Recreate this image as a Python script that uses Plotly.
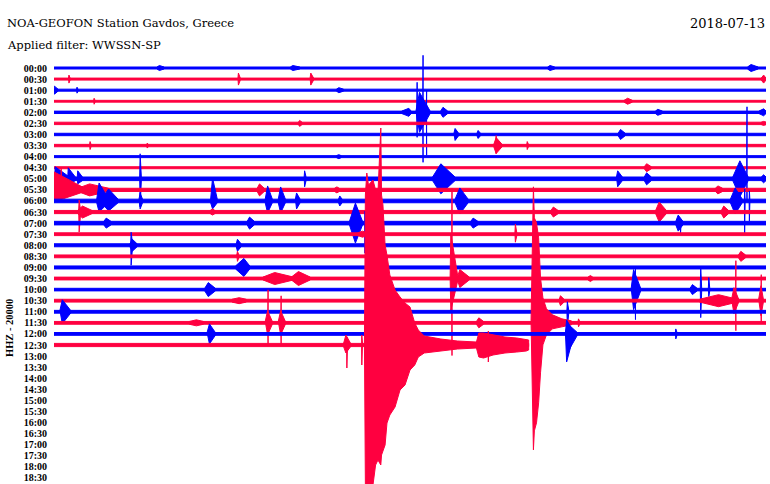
import plotly.graph_objects as go

# ---------------- text ----------------
TITLE = "NOA-GEOFON Station Gavdos, Greece"
FILTER_TEXT = "Applied filter: WWSSN-SP"
DATE_TEXT = "2018-07-13"
SCALE_TEXT = "HHZ - 20000"

row_labels = ["00:00", "00:30", "01:00", "01:30", "02:00", "02:30", "03:00", "03:30",
              "04:00", "04:30", "05:00", "05:30", "06:00", "06:30", "07:00", "07:30",
              "08:00", "08:30", "09:00", "09:30", "10:00", "10:30", "11:00", "11:30",
              "12:00", "12:30", "13:00", "13:30", "14:00", "14:30", "15:00", "15:30",
              "16:00", "16:30", "17:00", "17:30", "18:00", "18:30"]

ROW_MINUTES = 30          # each helicorder line spans 30 minutes
ROW_UNITS = 11.08         # amplitude units per line spacing (1 line = 20000 counts)

# background noise half-amplitude of each recorded line
base_noise = [1.0, 1.0, 1.0, 0.9, 1.2, 1.2, 1.2, 1.2, 1.0, 1.0,
              1.8, 1.6, 1.8, 1.6, 1.8, 1.4, 1.5, 1.4, 1.5, 1.4,
              1.3, 1.4, 1.4, 1.4, 1.4, 1.6]
# minute at which each recorded line ends
trace_end = [30] * 25 + [20.0]

# wave packets: (minute, up, down, rise, decay)
ev_0000 = [(4.44, 2.5, 2.5, .1, .2), (10.06, 2.5, 2.5, .1, .3), (20.9, 2.5, 2.5, .1, .2), (29.37, 3.5, 3.5, .15, .3)]
ev_0030 = [(0.63, 4, 4, .02, .05), (7.77, 6, 6, .02, .08), (10.82, 6, 6, .03, .12), (29.9, 4, 4, .1, .1)]
ev_0100 = [(0.02, 4, 4, .01, .15), (0.97, 3, 3, .02, .04), (12.0, 2.5, 2.5, .1, .2)]
ev_0130 = [(1.69, 3, 3, .02, .04), (24.17, 3, 3, .15, .2)]
ev_0200 = [(14.95, 4, 4, .3, .1), (15.4, 20, 20, .15, .45), (15.3, 30, 25, .02, .02), (15.55, 57, 50, .01, .01),
           (15.70, 22, 43, .01, .01), (16.39, 5, 5, .1, .2), (25.44, 3, 3, .1, .2), (29.9, 3.5, 3.5, .2, .1)]
ev_0230 = [(10.35, 3, 3, .05, .1), (29.9, 2, 2, .1, .1)]
ev_0300 = [(16.9, 6, 6, .05, .15), (17.87, 4, 4, .05, .1), (23.87, 5, 5, .1, .2)]
ev_0330 = [(1.52, 4, 4, .02, .04), (3.93, 2.5, 2.5, .02, .04), (18.63, 8, 8, .1, .25), (18.63, 10, 8, .01, .02),
           (19.94, 4, 4, .02, .05)]
ev_0400 = [(12.0, 2, 2, .1, .1)]
ev_0430 = [(24.97, 4, 4, .1, .2)]
ev_0500 = [(0.05, 12, 8, .02, .6), (0.6, 11, 6, .02, .3), (1.0, 8, 5, .02, .2), (3.63, 25, 28, .02, .05),
           (10.56, 8, 8, .02, .06), (16.3, 15, 15, .35, .6), (23.75, 8, 8, .05, .2), (24.97, 6, 6, .1, .2),
           (28.9, 18, 18, .3, .35), (29.2, 72, 22, .01, .02), (29.9, 4, 4, .1, .1)]
ev_0530 = [(0.0, 18, 12, .01, 1.3), (0.3, 22, 10, .01, .05), (1.5, 6, 6, .5, .8), (8.66, 6, 6, .1, .2),
           (11.92, 3, 3, .1, .1), (27.97, 4, 4, .1, .2)]
ev_0600 = [(1.9, 18, 11, .1, .4), (2.3, 12, 10, .3, .4), (3.63, 8, 8, .05, .1), (6.68, 23, 8, .08, .2),
           (9.0, 15, 12, .1, .2), (9.55, 14, 12, .1, .2), (10.22, 8, 8, .05, .15), (12.04, 5, 5, .05, .1),
           (17.1, 13, 13, .2, .35), (28.7, 13, 13, .2, .3), (29.1, 12, 32, .01, .02), (29.3, 10, 20, .01, .02)]
ev_0630 = [(1.06, 12, 20, .02, .06), (1.2, 6, 6, .2, .4), (6.68, 3, 3, .1, .1), (21.04, 5, 5, .1, .2),
           (25.5, 10, 10, .15, .3), (28.22, 6, 6, .1, .2)]
ev_0700 = [(2.2, 5, 5, .1, .2), (8.24, 6, 6, .1, .2), (12.7, 20, 20, .25, .3), (13.1, 12, 30, .01, .02),
           (17.66, 5, 5, .1, .2), (26.3, 8, 8, .1, .2), (26.4, 4, 10, .01, .02)]
ev_0730 = [(13.0, 3, 3, .2, .2), (19.44, 10, 8, .02, .06)]
ev_0800 = [(3.25, 13, 20, .02, .06), (3.3, 6, 6, .1, .2), (7.73, 6, 6, .05, .15)]
ev_0830 = [(7.73, 5, 5, .03, .06), (28.94, 5, 5, .1, .2)]
ev_0900 = [(8.0, 9, 9, .35, .25)]
ev_0930 = [(9.3, 6, 6, .5, .8), (10.3, 7, 7, .3, .5), (16.72, 45, 32, .03, .3), (16.77, 90, 77, .01, .01),
           (17.1, 9, 9, .1, .4), (22.6, 3, 3, .1, .1)]
ev_1000 = [(6.5, 7, 7, .15, .3), (24.42, 20, 20, .1, .3), (24.5, 22, 30, .01, .02), (26.9, 5, 5, .1, .2),
           (27.25, 22, 28, .02, .04), (27.59, 12, 7, .02, .04)]
ev_1030 = [(7.8, 3, 3, .3, .3), (21.34, 5, 5, .05, .15), (28.0, 6, 6, .8, .8), (28.65, 13, 13, .1, .2),
           (28.73, 40, 30, .01, .02), (29.79, 15, 15, .1, .1), (29.8, 26, 22, .01, .02)]
ev_1100 = [(0.35, 12, 12, .1, .35), (21.63, 10, 15, .02, .06)]
ev_1130 = [(6.0, 3, 3, .3, .3), (9.0, 12, 12, .1, .2), (9.02, 33, 22, .01, .02), (9.55, 12, 12, .1, .2),
           (9.57, 27, 22, .01, .02), (17.9, 5, 5, .1, .2), (22.1, 4, 4, .02, .05)]
ev_1200 = [(6.55, 10, 10, .1, .25), (21.6, 14, 28, .05, .3), (21.65, 10, 18, .1, .4), (26.2, 5, 5, .02, .05)]
ev_1230 = [(12.3, 10, 8, .1, .2), (12.34, 8, 23, .01, .03), (12.97, 10, 20, .01, .03), (18.3, 14, 17, .01, .03)]

# large earthquakes: envelope keypoints (minute, up, down)
quake_1130 = [(20.10, 2, 2), (20.18, 120, 100), (20.20, 136, 127), (20.24, 105, 108), (20.33, 100, 100),
              (20.42, 85, 80), (20.50, 45, 50), (20.60, 25, 22), (20.75, 14, 12), (21.0, 8, 6),
              (21.4, 4, 4), (21.8, 2, 2)]
quake_1230 = [(13.08, 2, 2), (13.12, 150, 140), (13.18, 172, 160), (13.25, 160, 150), (13.44, 165, 140),
              (13.55, 155, 120), (13.65, 152, 115), (13.77, 217, 120), (13.80, 150, 110), (13.86, 140, 105),
              (13.95, 100, 100), (14.03, 90, 78), (14.15, 70, 70), (14.37, 55, 62), (14.58, 48, 45),
              (14.79, 42, 40), (15.0, 38, 25), (15.2, 22, 20), (15.35, 15, 12), (15.6, 9, 8),
              (16.3, 6, 6), (17.0, 4, 4), (17.8, 3, 3)]
aftershock_1230 = [(17.8, 3, 3), (17.9, 12, 12), (18.1, 12, 13), (18.5, 10, 10), (19.0, 8, 8),
                   (19.5, 7, 7), (19.9, 6, 6), (20.0, 5, 5)]

row_events = [ev_0000, ev_0030, ev_0100, ev_0130, ev_0200, ev_0230, ev_0300, ev_0330, ev_0400, ev_0430,
              ev_0500, ev_0530, ev_0600, ev_0630, ev_0700, ev_0730, ev_0800, ev_0830, ev_0900, ev_0930,
              ev_1000, ev_1030, ev_1100, ev_1130, ev_1200, ev_1230]
row_quakes = {23: [quake_1130], 25: [quake_1230, aftershock_1230]}

BLUE = "#0000ff"
RED = "#ff0040"

fig = go.Figure()
for i, evs in enumerate(row_events):
    y0 = -i
    color = BLUE if i % 2 == 0 else RED
    b = base_noise[i] / ROW_UNITS
    end = trace_end[i]
    xs = [0, end, end, 0, 0, None]
    ys = [y0 + b, y0 + b, y0 - b, y0 - b, y0 + b, None]
    for (t, up, dn, r, d) in evs:
        u = up / ROW_UNITS
        w = dn / ROW_UNITS
        t1 = min(t + d, end)
        xs += [t - r, t, t1, t1, t, t - r, t - r, None]
        ys += [y0 + b, y0 + u, y0 + b, y0 - b, y0 - w, y0 - b, y0 + b, None]
    for env in row_quakes.get(i, []):
        ux = [m for m, _, _ in env]
        uy = [y0 + u / ROW_UNITS for _, u, _ in env]
        lx = ux[::-1]
        ly = [y0 - d / ROW_UNITS for _, _, d in env][::-1]
        xs += ux + lx + [ux[0], None]
        ys += uy + ly + [uy[0], None]
    fig.add_trace(go.Scatter(x=xs, y=ys, mode="lines", fill="toself", fillcolor=color,
                             line=dict(color=color, width=1), hoverinfo="skip", showlegend=False))

W, H = 770, 484
ML, MR, MT, MB = 54, 4, 48, 0
PX_PER_ROW = 11.08
top_val = (68 - MT) / PX_PER_ROW
bot_val = -(H - MB - 68) / PX_PER_ROW

def px_x(px):
    return (px - ML) / (W - ML - MR)

def px_y(py):
    return (H - MB - py) / (H - MT - MB)

TEXT_FONT = dict(family="DejaVu Serif", size=11.5, color="black")
DATE_FONT = dict(family="DejaVu Serif", size=13, color="black")

fig.update_layout(
    width=W, height=H,
    margin=dict(l=ML, r=MR, t=MT, b=MB),
    paper_bgcolor="white", plot_bgcolor="white",
    xaxis=dict(range=[0, ROW_MINUTES], visible=False, fixedrange=True),
    yaxis=dict(range=[bot_val, top_val], tickvals=[-k for k in range(len(row_labels))],
               ticktext=row_labels, showgrid=False, zeroline=False, showline=False, ticks="",
               ticklabelstandoff=6, fixedrange=True,
               tickfont=dict(family="Liberation Serif", size=10, color="black", weight="bold")),
    annotations=[
        dict(text=TITLE, x=px_x(5), y=px_y(23.5), xref="paper", yref="paper", xanchor="left",
             yanchor="middle", showarrow=False, font=TEXT_FONT),
        dict(text=FILTER_TEXT, x=px_x(5), y=px_y(45.5), xref="paper", yref="paper", xanchor="left",
             yanchor="middle", showarrow=False, font=TEXT_FONT),
        dict(text=DATE_TEXT, x=px_x(767), y=px_y(23.5), xref="paper", yref="paper", xanchor="right",
             yanchor="middle", showarrow=False, font=DATE_FONT),
        dict(text=SCALE_TEXT, x=px_x(10), y=px_y(328), xref="paper", yref="paper", xanchor="center",
             yanchor="middle", textangle=-90, showarrow=False,
             font=dict(family="Liberation Serif", size=10.5, color="black", weight="bold")),
    ],
)

fig.write_html("out.html", config={"displayModeBar": False},
               post_script="document.body.style.margin='0';document.body.style.padding='0';")
